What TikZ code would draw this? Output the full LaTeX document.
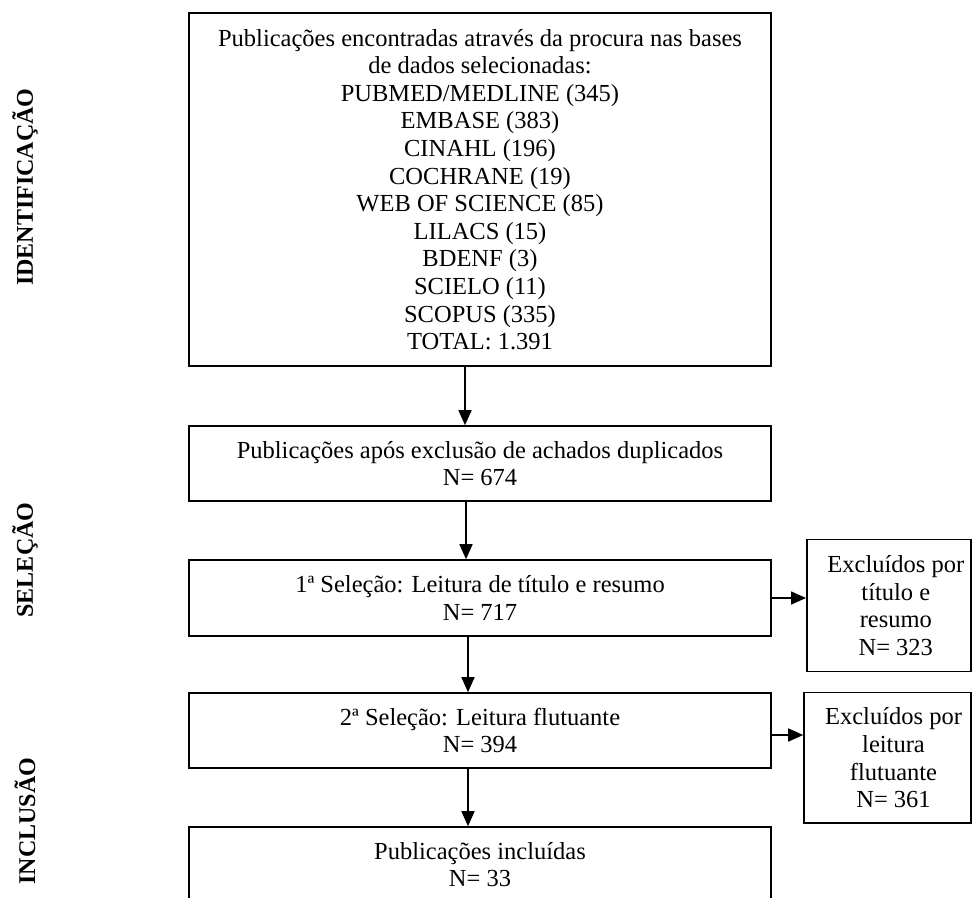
\documentclass[tikz,border=0pt]{standalone}
\usepackage{fontspec}
\setmainfont{Liberation Serif}
\usetikzlibrary{arrows.meta,calc}
\begin{document}
\begin{tikzpicture}[x=1pt,y=-1pt,
  txt/.style={align=center,inner sep=0pt,font=\fontsize{24.5}{27.6}\selectfont},
  box/.style={draw,line width=1.6pt,txt},
  mainbox/.style={box,minimum width=582pt,minimum height=75pt},
  sidebox/.style={draw,line width=1.6pt,inner sep=0pt},
  arr/.style={line width=1.6pt,-{Triangle[length=15pt,width=13pt]}},
  phase/.style={rotate=90,inner sep=0pt,font=\fontsize{24}{28}\selectfont\bfseries}]
\useasboundingbox (0,0) rectangle (973,897);

\node[box,minimum width=582pt,minimum height=353pt] (top) at (480,189.5) {Publicações encontradas através da procura nas bases\\de dados selecionadas:\\PUBMED/MEDLINE (345)\\EMBASE (383)\\CINAHL (196)\\COCHRANE (19)\\WEB OF SCIENCE (85)\\LILACS (15)\\BDENF (3)\\SCIELO (11)\\SCOPUS (335)\\TOTAL: 1.391};

\node[mainbox] (b2) at (480,463.5) {Publicações após exclusão de achados duplicados\\N= 674};
\node[mainbox,minimum height=76pt] (b3) at (480,598) {1ª Seleção: Leitura de título e resumo\\N= 717};
\node[mainbox] (b4) at (480,730.5) {2ª Seleção: Leitura flutuante\\N= 394};
\node[mainbox] (b5) at (480,864.5) {Publicações incluídas\\N= 33};

\node[sidebox,minimum width=164pt,minimum height=132pt,
  label={[txt,xshift=7pt]center:{Excluídos por\\título e\\resumo\\N= 323}}] (r1) at (888.8,605.5) {};
\node[sidebox,minimum width=167pt,minimum height=130.5pt,
  label={[txt,xshift=6pt]center:{Excluídos por\\leitura\\flutuante\\N= 361}}] (r2) at (887.5,757.8) {};

\node[phase] (p1) at (25,187) {IDENTIFICAÇÃO};
\node[phase] (p2) at (25,560) {SELEÇÃO};
\node[phase] (p3) at (25,821) {INCLUSÃO};

\draw[arr] ([xshift=-15pt]top.south) -- ([xshift=-15pt]b2.north);
\draw[arr] ([xshift=-14pt]b2.south) -- ([xshift=-14pt]b3.north);
\draw[arr] ([xshift=-12pt]b3.south) -- ([xshift=-12pt]b4.north);
\draw[arr] ([xshift=-12pt]b4.south) -- ([xshift=-12pt]b5.north);
\draw[arr] (b3.east) -- (b3.east -| r1.west);
\draw[arr] ([yshift=-4.5pt]b4.east) -- ([yshift=-4.5pt]b4.east -| r2.west);
\end{tikzpicture}
\end{document}
